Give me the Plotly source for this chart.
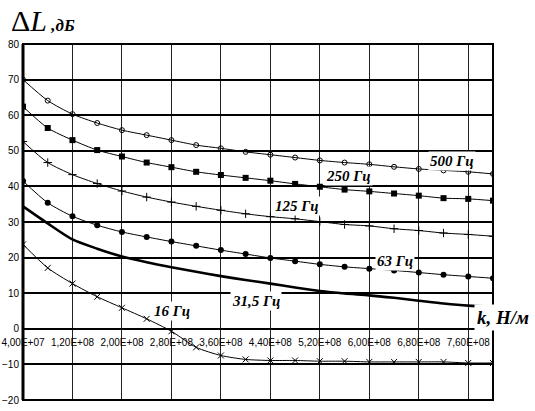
import plotly.graph_objects as go

# stiffness k, N/m (every 4e7 from 4e7 to 8e8)
k_values = [4e7 * (i + 1) for i in range(20)]

tick_vals = [4e7, 1.2e8, 2.0e8, 2.8e8, 3.6e8, 4.4e8, 5.2e8, 6.0e8, 6.8e8, 7.6e8]
tick_text = ["4,00E+07", "1,20E+08", "2,00E+08", "2,80E+08", "3,60E+08",
             "4,40E+08", "5,20E+08", "6,00E+08", "6,80E+08", "7,60E+08"]

y_ticks = [-20, -10, 0, 10, 20, 30, 40, 50, 60, 70, 80]

dl_500 = [70.0, 64.1, 60.3, 57.8, 55.8, 54.4, 53.0, 51.6, 50.7, 49.7,
          48.9, 48.1, 47.3, 46.7, 46.2, 45.5, 44.9, 44.5, 44.1, 43.5]
dl_250 = [62.4, 56.4, 53.0, 50.2, 48.4, 46.7, 45.4, 44.1, 43.2, 42.4,
          41.6, 40.7, 39.9, 39.1, 38.6, 38.0, 37.4, 36.7, 36.5, 36.0]
dl_125 = [52.6, 46.7, 43.3, 40.8, 38.7, 37.0, 35.6, 34.4, 33.3, 32.3,
          31.5, 30.9, 30.1, 29.3, 28.9, 28.1, 27.6, 26.9, 26.5, 26.0]
dl_63 = [41.5, 35.4, 31.6, 29.1, 27.2, 25.8, 24.5, 23.3, 22.1, 21.0,
         19.9, 19.0, 18.1, 17.4, 16.9, 16.4, 15.8, 15.2, 14.7, 14.2]
dl_31_5 = [34.4, 29.6, 25.1, 22.5, 20.3, 18.7, 17.3, 16.0, 14.8, 13.7,
           12.7, 11.6, 10.6, 9.9, 9.4, 8.7, 7.9, 7.1, 6.5, 6.2]
dl_16 = [23.7, 17.1, 12.7, 9.0, 5.9, 2.8, -0.7, -5.2, -7.5, -8.6,
         -8.9, -8.9, -9.1, -9.1, -9.3, -9.3, -9.3, -9.3, -9.6, -9.6]

fig = go.Figure()

line_spec = dict(color="black", width=1, shape="spline", smoothing=0.7)

fig.add_trace(go.Scatter(x=k_values, y=dl_500, mode="lines+markers",
                         line=line_spec,
                         marker=dict(symbol="circle-open", size=5, color="black",
                                     line=dict(width=1, color="black"))))
fig.add_trace(go.Scatter(x=k_values, y=dl_250, mode="lines+markers",
                         line=line_spec,
                         marker=dict(symbol="square", size=6, color="black")))
fig.add_trace(go.Scatter(x=k_values, y=dl_125, mode="lines+markers",
                         line=line_spec,
                         marker=dict(symbol="cross-thin-open", size=6, color="black",
                                     line=dict(width=1, color="black"))))
fig.add_trace(go.Scatter(x=k_values, y=dl_63, mode="lines+markers",
                         line=line_spec,
                         marker=dict(symbol="circle", size=6, color="black")))
fig.add_trace(go.Scatter(x=k_values, y=dl_31_5, mode="lines",
                         line=dict(color="black", width=2.6, shape="spline", smoothing=0.7)))
fig.add_trace(go.Scatter(x=k_values, y=dl_16, mode="lines+markers",
                         line=line_spec,
                         marker=dict(symbol="x-thin-open", size=6, color="black",
                                     line=dict(width=1, color="black"))))

serif = "Liberation Serif"
sans = "Liberation Sans"

labels = [
    ("500 Гц", 7.34e8, 47.2),
    ("250 Гц", 5.67e8, 43.0),
    ("125 Гц", 4.83e8, 34.6),
    ("63 Гц", 6.42e8, 19.1),
    ("31,5 Гц", 4.17e8, 7.85),
    ("16 Гц", 2.81e8, 5.0),
]
for txt, lx, ly in labels:
    fig.add_annotation(x=lx, y=ly, xref="x", yref="y", text="<b><i>" + txt + "</i></b>",
                       showarrow=False, bgcolor="white", borderpad=1,
                       xanchor="center", yanchor="middle",
                       font=dict(family=serif, size=15, color="black"))

fig.add_annotation(x=1.021, y=0.231, xref="paper", yref="paper",
                   xanchor="center", yanchor="middle",
                   text="<b><i>k, Н/м</i></b>", showarrow=False, bgcolor="white",
                   borderpad=2, font=dict(family=serif, size=19, color="black"))

fig.add_annotation(x=-0.03, y=1.067, xref="paper", yref="paper",
                   xanchor="left", yanchor="middle",
                   text="Δ<i>L</i><span style='font-size:17px'><b><i> ,дБ</i></b></span>",
                   showarrow=False,
                   font=dict(family=serif, size=30, color="black"))

# frame
fig.add_shape(type="rect", xref="paper", yref="paper", x0=0, x1=1, y0=0, y1=1,
              line=dict(color="black", width=2), layer="above")
fig.add_shape(type="line", xref="paper", yref="paper", x0=0, x1=0, y0=0, y1=1,
              line=dict(color="black", width=3), layer="above")

fig.update_layout(
    width=535, height=411, autosize=False,
    margin=dict(l=23, r=42, t=44, b=11),
    paper_bgcolor="white", plot_bgcolor="white",
    showlegend=False,
    xaxis=dict(range=[4e7, 8e8], tickvals=tick_vals, ticktext=tick_text,
               showgrid=True, gridcolor="#222222", gridwidth=1,
               zeroline=False, showline=False, ticks="",
               anchor="free", position=0.2, automargin=False,
               ticklabelstandoff=6,
               tickfont=dict(family=sans, size=10, color="black")),
    yaxis=dict(range=[-20, 80], tickvals=y_ticks, automargin=False,
               showgrid=True, gridcolor="black", gridwidth=1.6,
               zeroline=False, showline=False, ticks="",
               ticklabelstandoff=3,
               tickfont=dict(family=sans, size=10, color="black")),
)

fig.write_html("out.html",
               config={"displayModeBar": False},
               post_script="document.body.style.margin='0';document.body.style.overflow='hidden';")
